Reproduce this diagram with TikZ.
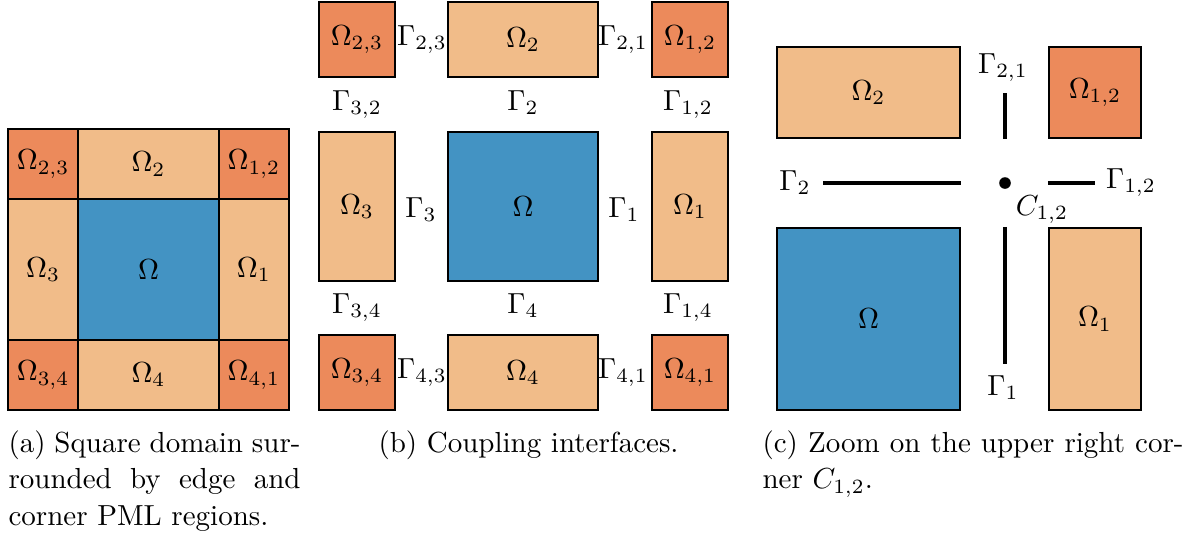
\documentclass[tikz,border=0pt]{standalone}
\usepackage{amsmath}
\usetikzlibrary{positioning}
\definecolor{domblue}{RGB}{67, 147, 195}
\definecolor{pmllight}{RGB}{241, 188, 137}
\definecolor{pmldark}{RGB}{236, 138, 91}
\newcommand{\pxu}{0.3448pt}

\begin{document}
\begin{tikzpicture}[x=0.3448pt, y=-0.3448pt,
        box/.style={draw, thick, inner sep=0pt},
        dom/.style={box, fill=domblue},
        edgepml/.style={box, fill=pmllight},
        cornerpml/.style={box, fill=pmldark},
        lbl/.style={inner sep=0pt, anchor=base},
        iface/.style={very thick},
        capt/.style={inner sep=0pt, font=\fontsize{10}{12.6}\selectfont}
      ]
        \useasboundingbox (0,0) rectangle (1191,537);

        % (a) square domain with PML layers
        \node[cornerpml, minimum width=70.3*\pxu, minimum height=70.3*\pxu] (a23) at (43.1,164.1) {$\Omega_{2,3}$};
        \node[edgepml, minimum width=140.4*\pxu, minimum height=70.3*\pxu] (a2) at (148.5,164.1) {$\Omega_2$};
        \node[cornerpml, minimum width=70.3*\pxu, minimum height=70.3*\pxu] (a12) at (253.9,164.1) {$\Omega_{1,2}$};
        \node[edgepml, minimum width=70.3*\pxu, minimum height=140.4*\pxu] (a3) at (43.1,269.5) {$\Omega_3$};
        \node[dom, minimum width=140.4*\pxu, minimum height=140.4*\pxu] (a0) at (148.5,269.5) {$\Omega$};
        \node[edgepml, minimum width=70.3*\pxu, minimum height=140.4*\pxu] (a1) at (253.9,269.5) {$\Omega_1$};
        \node[cornerpml, minimum width=70.3*\pxu, minimum height=70.3*\pxu] (a34) at (43.1,374.9) {$\Omega_{3,4}$};
        \node[edgepml, minimum width=140.4*\pxu, minimum height=70.3*\pxu] (a4) at (148.5,374.9) {$\Omega_4$};
        \node[cornerpml, minimum width=70.3*\pxu, minimum height=70.3*\pxu] (a41) at (253.9,374.9) {$\Omega_{4,1}$};

        % (b) coupling interfaces
        \node[cornerpml, minimum width=76*\pxu, minimum height=75*\pxu] (b23) at (357,39.5) {$\Omega_{2,3}$};
        \node[edgepml, minimum width=150*\pxu, minimum height=75*\pxu] (b2) at (523,39.5) {$\Omega_2$};
        \node[cornerpml, minimum width=76*\pxu, minimum height=75*\pxu] (b12) at (690,39.5) {$\Omega_{1,2}$};
        \node[edgepml, minimum width=76*\pxu, minimum height=149*\pxu] (b3) at (357,206.5) {$\Omega_3$};
        \node[dom, minimum width=150*\pxu, minimum height=149*\pxu] (b0) at (523,206.5) {$\Omega$};
        \node[edgepml, minimum width=76*\pxu, minimum height=149*\pxu] (b1) at (690,206.5) {$\Omega_1$};
        \node[cornerpml, minimum width=76*\pxu, minimum height=75*\pxu] (b34) at (357,372.5) {$\Omega_{3,4}$};
        \node[edgepml, minimum width=150*\pxu, minimum height=75*\pxu] (b4) at (523,372.5) {$\Omega_4$};
        \node[cornerpml, minimum width=76*\pxu, minimum height=75*\pxu] (b41) at (690,372.5) {$\Omega_{4,1}$};

        \node[lbl] (g23) at (422,45) {$\Gamma_{2,3}$};
        \node[lbl] (g21) at (623,45) {$\Gamma_{2,1}$};
        \node[lbl] (g32) at (357,110) {$\Gamma_{3,2}$};
        \node[lbl] (g2) at (523,110) {$\Gamma_2$};
        \node[lbl] (g12) at (688,110) {$\Gamma_{1,2}$};
        \node[lbl] (g3) at (421,217) {$\Gamma_3$};
        \node[lbl] (g1) at (624,217) {$\Gamma_1$};
        \node[lbl] (g34) at (357,313) {$\Gamma_{3,4}$};
        \node[lbl] (g4) at (523,313) {$\Gamma_4$};
        \node[lbl] (g14) at (688,313) {$\Gamma_{1,4}$};
        \node[lbl] (g43) at (422,378) {$\Gamma_{4,3}$};
        \node[lbl] (g41) at (623,378) {$\Gamma_{4,1}$};

        % (c) zoom on the corner
        \node[edgepml, minimum width=183*\pxu, minimum height=91*\pxu] (c2) at (868.5,92.5) {$\Omega_2$};
        \node[cornerpml, minimum width=92*\pxu, minimum height=91*\pxu] (c12) at (1095,92.5) {$\Omega_{1,2}$};
        \node[dom, minimum width=183*\pxu, minimum height=182*\pxu] (c0) at (868.5,319) {$\Omega$};
        \node[edgepml, minimum width=92*\pxu, minimum height=182*\pxu] (c1) at (1095,319) {$\Omega_1$};

        \coordinate (corner) at (1005,183);
        \coordinate (ga) at (1005,93);
        \coordinate (gb) at (1005,364);
        \coordinate (gl) at (823,183);
        \coordinate (gr) at (1095,183);
        \draw[iface] (ga) -- (ga |- c2.south);
        \draw[iface] (gb |- c1.north) -- (gb);
        \draw[iface] (gl) -- (gl -| c2.east);
        \draw[iface] (gr -| c1.west) -- (gr);
        \fill (corner) circle (2pt);

        \node[lbl] (cg21) at (1003,73) {$\Gamma_{2,1}$};
        \node[lbl] (cg2) at (795,190) {$\Gamma_2$};
        \node[lbl] (cg12) at (1131,188) {$\Gamma_{1,2}$};
        \node[lbl] (cc12) at (1042,215) {$C_{1,2}$};
        \node[lbl] (cg1) at (1003,395) {$\Gamma_1$};

        % captions
        \node[capt, text width=292*\pxu, align=justify, anchor=north west] (capa) at (8,430)
          {(a) Square domain sur-\linebreak rounded by edge and\linebreak corner PML regions.};
        \node[capt, anchor=base] (capb) at (528.5,452) {(b) Coupling interfaces.};
        \node[capt, text width=421*\pxu, align=justify, anchor=north west] (capc) at (762,430)
          {(c) Zoom on the upper right cor-\linebreak ner $C_{1,2}$.};
      \end{tikzpicture}
\end{document}
